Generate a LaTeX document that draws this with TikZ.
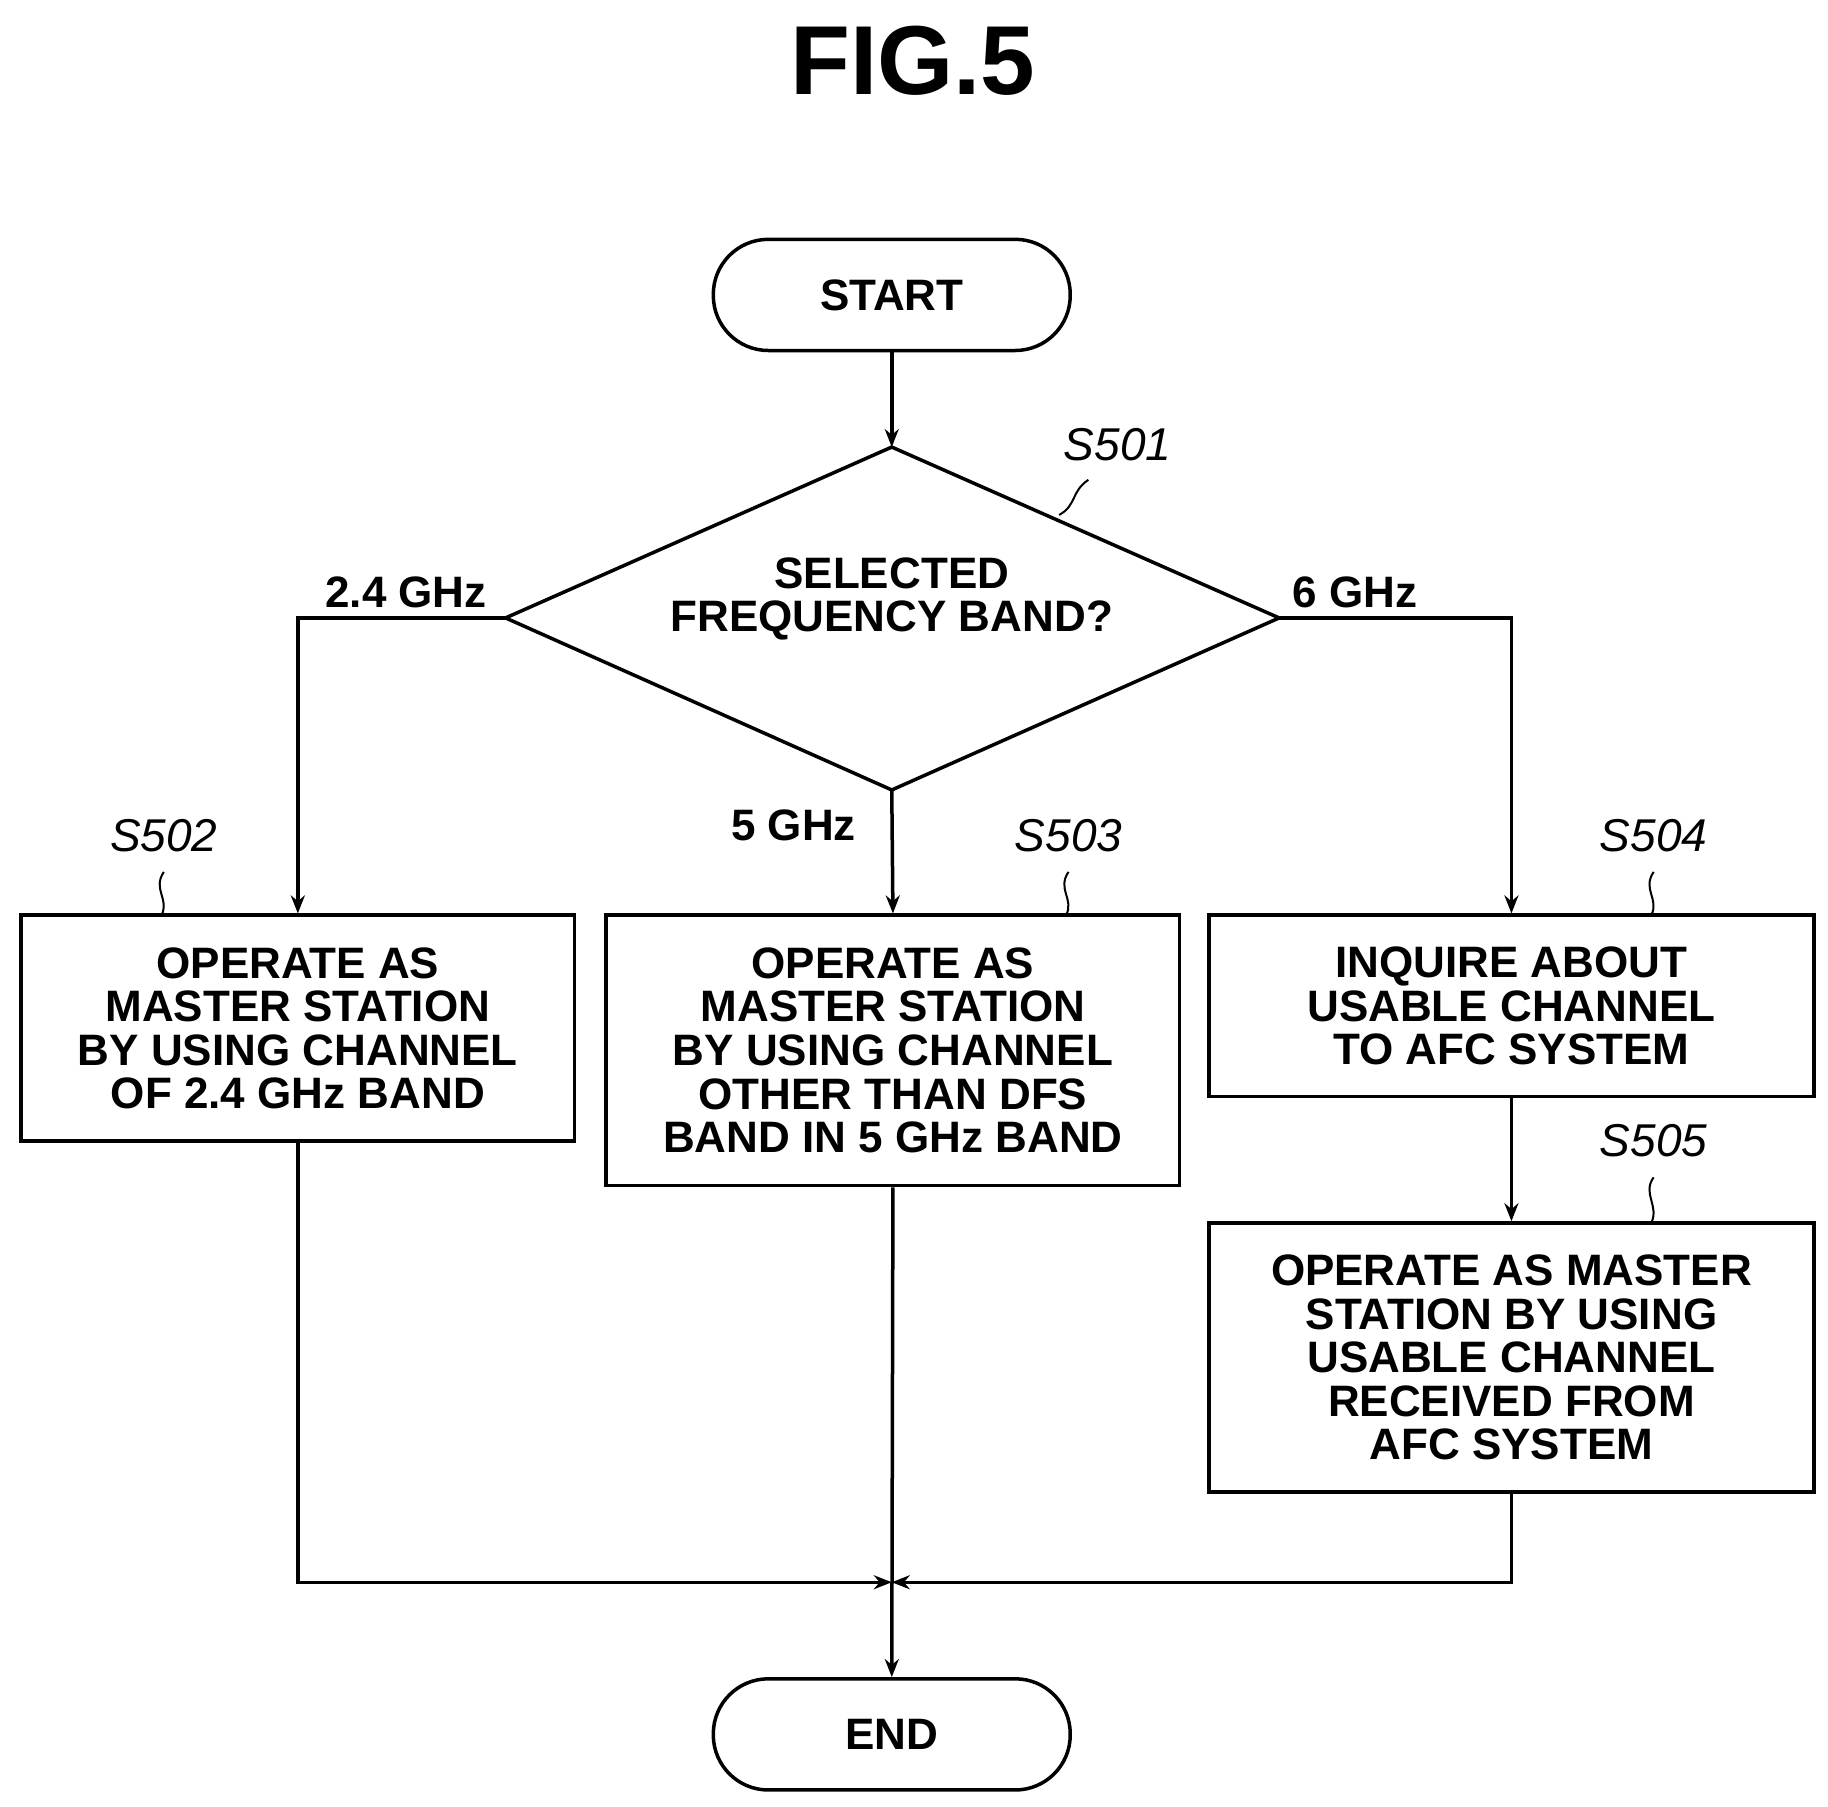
\documentclass[tikz,border=0pt]{standalone}
\usepackage{fontspec}
\setmainfont{Liberation Sans}
\usetikzlibrary{shapes.geometric,arrows.meta}
\begin{document}
\begin{tikzpicture}[x=1.17pt,y=-1.17pt,line width=3.5pt,
  box/.style={draw,rectangle,inner sep=0pt,align=center,font=\fontsize{44}{43.5}\selectfont\bfseries},
  term/.style={draw,rounded corners=55pt,inner sep=0pt,font=\fontsize{44}{43}\selectfont\bfseries},
  lab/.style={font=\fontsize{44}{46}\selectfont\bfseries},
  steplab/.style={font=\fontsize{46}{46}\selectfont\itshape},
  arr/.style={-{Stealth[length=18pt,width=14pt]}}]
\useasboundingbox (0,0) rectangle (1562,1544);
\node[font=\fontsize{98}{98}\selectfont\bfseries] (title) at (780,52) {FIG.5};
\node[term,minimum width=305*1.17pt,minimum height=95*1.17pt] (start) at (762,252) {START};
\coordinate (dt) at (762,382); \coordinate (dl) at (432,528);
\coordinate (dr) at (1093,528); \coordinate (db) at (762,675);
\draw (dt) -- (dr) -- (db) -- (dl) -- cycle;
\node[box,draw=none] (dec) at (762,512) {SELECTED\\FREQUENCY BAND?};
\node[box,minimum width=473*1.17pt,minimum height=193*1.17pt] (b1) at (254.5,878.5) {OPERATE AS\\MASTER STATION\\BY USING CHANNEL\\OF 2.4 GHz BAND};
\node[box,minimum width=490*1.17pt,minimum height=231*1.17pt] (b2) at (763,897.5) {OPERATE AS\\MASTER STATION\\BY USING CHANNEL\\OTHER THAN DFS\\BAND IN 5 GHz BAND};
\node[box,minimum width=517*1.17pt,minimum height=155*1.17pt] (b3) at (1291.5,859.5) {INQUIRE ABOUT\\USABLE CHANNEL\\TO AFC SYSTEM};
\node[box,minimum width=517*1.17pt,minimum height=230*1.17pt] (b4) at (1291.5,1160) {OPERATE AS MASTER\\STATION BY USING\\USABLE CHANNEL\\RECEIVED FROM\\AFC SYSTEM};
\node[term,minimum width=305*1.17pt,minimum height=95*1.17pt] (end) at (762,1482) {END};
\coordinate (m) at (762,1352);
\draw[arr] (start) -- (dt);
\draw[arr] (dl) -| (b1.north);
\draw[arr] (dr) -| (b3.north);
\draw[arr] (db) -- (b2.north);
\draw[arr] (b3) -- (b4);
\draw[arr] (b1.south) |- (m);
\draw[arr] (b4.south) |- (m);
\draw[arr] (b2.south) -- (end.north);
\node[lab] (l24) at (347,506) {2.4 GHz};
\node[lab] (l6) at (1158,506) {6 GHz};
\node[lab] (l5) at (678,705) {5 GHz};
\node[steplab] (s501) at (955,380) {S501};
\node[steplab] (s502) at (140,714) {S502};
\node[steplab] (s503) at (913,714) {S503};
\node[steplab] (s504) at (1413,714) {S504};
\node[steplab] (s505) at (1413,975) {S505};
\begin{scope}[line width=2pt]
\draw (930,410) .. controls (915,420) and (920,432) .. (905,440);
\draw (140,745) .. controls (130,760) and (145,768) .. (138,782);
\draw (913,745) .. controls (903,760) and (918,768) .. (911,782);
\draw (1413,745) .. controls (1403,760) and (1418,768) .. (1411,782);
\draw (1413,1006) .. controls (1403,1020) and (1418,1030) .. (1411,1045);
\end{scope}
\end{tikzpicture}
\end{document}
